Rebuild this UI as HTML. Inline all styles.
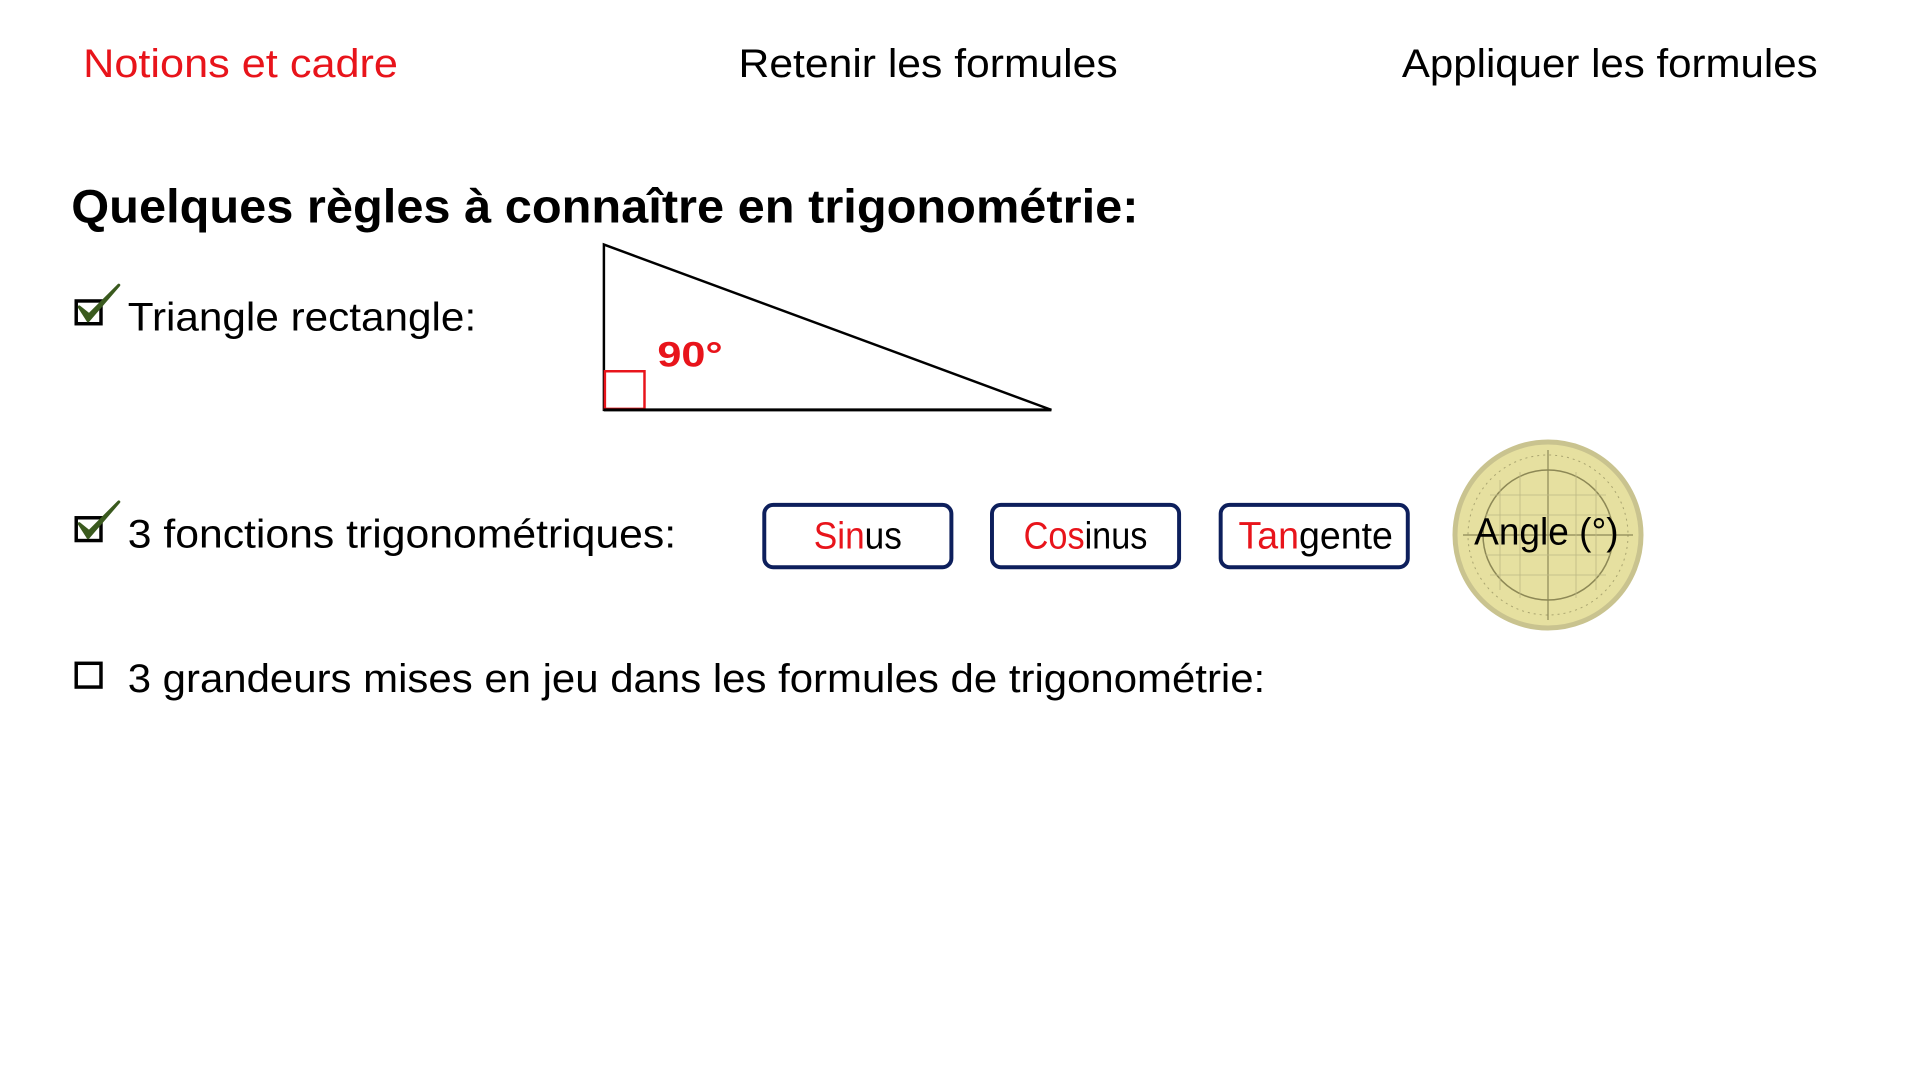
<!DOCTYPE html>
<html><head><meta charset="utf-8"><style>
html,body{margin:0;padding:0;background:#fff;width:1920px;height:1080px;overflow:hidden}
svg{display:block}
text{font-family:"Comic Sans MS","Liberation Sans",sans-serif}
</style></head><body>
<svg width="1920" height="1080" viewBox="0 0 1920 1080" xmlns="http://www.w3.org/2000/svg">
<g>
<circle cx="1548" cy="535" r="93" fill="#e6e0a0" stroke="#c9c38f" stroke-width="5"/>
<circle cx="1548" cy="535" r="80" fill="none" stroke="#a9a470" stroke-width="1" stroke-dasharray="2 4"/>
<circle cx="1548" cy="535" r="65" fill="none" stroke="#8d8856" stroke-width="1.5"/>
<line x1="1548" y1="450" x2="1548" y2="620" stroke="#8d8856" stroke-width="1.2"/>
<line x1="1463" y1="535" x2="1633" y2="535" stroke="#8d8856" stroke-width="1.2"/>
<g stroke="#bdb884" stroke-width="0.8">
<line x1="1500" y1="480" x2="1500" y2="590"/><line x1="1520" y1="472" x2="1520" y2="598"/><line x1="1576" y1="472" x2="1576" y2="598"/><line x1="1596" y1="480" x2="1596" y2="590"/>
<line x1="1490" y1="495" x2="1606" y2="495"/><line x1="1485" y1="515" x2="1611" y2="515"/><line x1="1485" y1="555" x2="1611" y2="555"/><line x1="1490" y1="575" x2="1606" y2="575"/>
</g>
</g>
<g transform="scale(0.99)">
<text x="84" y="78" font-size="40" fill="#e8141b" textLength="318" lengthAdjust="spacingAndGlyphs">Notions et cadre</text>
<text x="746" y="78" font-size="40" fill="#000" textLength="383" lengthAdjust="spacingAndGlyphs">Retenir les formules</text>
<text x="1416" y="78" font-size="40" fill="#000" textLength="420" lengthAdjust="spacingAndGlyphs">Appliquer les formules</text>
<text x="72" y="225" font-size="48" font-weight="bold" fill="#000" textLength="1078" lengthAdjust="spacingAndGlyphs">Quelques règles à connaître en trigonométrie:</text>

<rect x="77" y="304" width="25" height="23" fill="none" stroke="#000" stroke-width="3.5"/>
<path d="M80 310 L89 324 L120 288 L90 318 Z" fill="#3a5a1e" stroke="#3a5a1e" stroke-width="3" stroke-linejoin="round"/>
<text x="129" y="334" font-size="40" fill="#000" textLength="352" lengthAdjust="spacingAndGlyphs">Triangle rectangle:</text>

<polygon points="610,247 610,414 1062,414" fill="none" stroke="#000" stroke-width="2.5"/>
<rect x="611" y="375" width="40" height="38" fill="none" stroke="#e8141b" stroke-width="2.5"/>
<line x1="610" y1="414" x2="1062" y2="414" stroke="#000" stroke-width="3"/>
<text x="664" y="370" font-size="36" font-weight="bold" fill="#e8141b" textLength="66" lengthAdjust="spacingAndGlyphs">90°</text>

<rect x="77" y="523" width="25" height="23" fill="none" stroke="#000" stroke-width="3.5"/>
<path d="M80 529 L89 543 L120 507 L90 537 Z" fill="#3a5a1e" stroke="#3a5a1e" stroke-width="3" stroke-linejoin="round"/>
<text x="129" y="553" font-size="40" fill="#000" textLength="554" lengthAdjust="spacingAndGlyphs">3 fonctions trigonométriques:</text>

<rect x="772" y="510" width="189" height="63" rx="9" fill="#fff" stroke="#0d1f5c" stroke-width="4"/>
<rect x="1002" y="510" width="189" height="63" rx="9" fill="#fff" stroke="#0d1f5c" stroke-width="4"/>
<rect x="1233" y="510" width="189" height="63" rx="9" fill="#fff" stroke="#0d1f5c" stroke-width="4"/>
<text x="822" y="554" font-size="38" textLength="89" lengthAdjust="spacingAndGlyphs"><tspan fill="#e8141b">Sin</tspan><tspan fill="#000">us</tspan></text>
<text x="1034" y="554" font-size="38" textLength="125" lengthAdjust="spacingAndGlyphs"><tspan fill="#e8141b">Cos</tspan><tspan fill="#000">inus</tspan></text>
<text x="1251" y="554" font-size="38" textLength="156" lengthAdjust="spacingAndGlyphs"><tspan fill="#e8141b">Tan</tspan><tspan fill="#000">gente</tspan></text>

<text x="1489" y="550" font-size="38" fill="#000" textLength="146" lengthAdjust="spacingAndGlyphs">Angle (°)</text>

<rect x="77" y="670" width="25" height="24" fill="none" stroke="#000" stroke-width="3.5"/>
<text x="129" y="699" font-size="40" fill="#000" textLength="1149" lengthAdjust="spacingAndGlyphs">3 grandeurs mises en jeu dans les formules de trigonométrie:</text>
</g>
</svg>
</body></html>
